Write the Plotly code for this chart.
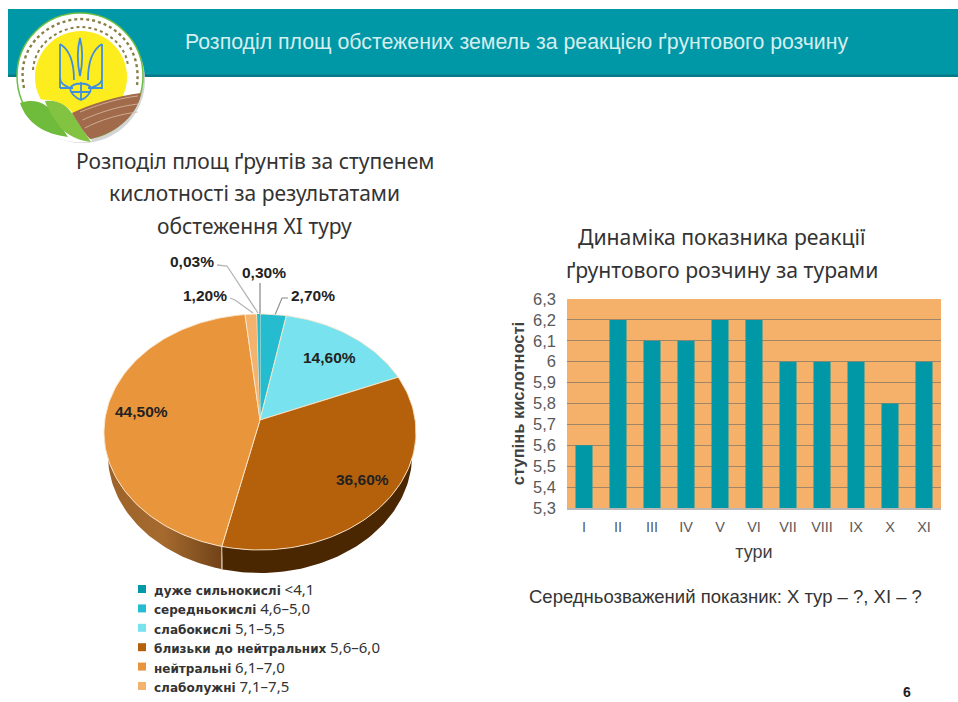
import math, re
import plotly.graph_objects as go

W, H = 958, 702

# ---------- data ----------
slice_values = [2.70, 14.60, 36.60, 44.50, 1.20, 0.03, 0.30]
slice_colors = ["#25bcd0", "#78e3ee", "#b5600b", "#e8953c", "#f3b26d", "#f3b26d", "#25bcd0"]
slice_labels = ["2,70%", "14,60%", "36,60%", "44,50%", "1,20%", "0,03%", "0,30%"]

legend_names = ["дуже сильнокислі", "середньокислі", "слабокислі",
                "близьки до нейтральних", "нейтральні", "слаболужні"]
legend_ranges = ["&lt;4,1", "4,6–5,0", "5,1–5,5", "5,6–6,0", "6,1–7,0", "7,1–7,5"]
legend_colors = ["#0097a7", "#25bcd0", "#78e3ee", "#b5600b", "#e8953c", "#f3b26d"]

tours = ["I", "II", "III", "IV", "V", "VI", "VII", "VIII", "IX", "X", "XI"]
acidity = [5.6, 6.2, 6.1, 6.1, 6.2, 6.2, 6.0, 6.0, 6.0, 5.8, 6.0]
acid_ticks = [5.3, 5.4, 5.5, 5.6, 5.7, 5.8, 5.9, 6.0, 6.1, 6.2, 6.3]
acid_tick_text = ["5,3", "5,4", "5,5", "5,6", "5,7", "5,8", "5,9", "6", "6,1", "6,2", "6,3"]

TEAL = "#0097a7"
ORANGE = "#f5b06a"
GRID = "#a08568"

# ---------- pixel helpers ----------
def px(x): return x / W
def py(y): return 1 - y / H

def path(s):
    """Pixel path -> paper path."""
    i = [0]
    def rep(m):
        v = float(m.group(0))
        out = px(v) if i[0] % 2 == 0 else py(v)
        i[0] += 1
        return f"{out:.5f}"
    return re.sub(r"-?\d+\.?\d*", rep, s)

shapes, annos = [], []

def shape_path(s, fill=None, line=None, lw=0, dash=None):
    d = dict(type="path", path=path(s), xref="paper", yref="paper", layer="below",
             fillcolor=fill or "rgba(0,0,0,0)", line=dict(color=line or "rgba(0,0,0,0)", width=lw))
    if dash: d["line"]["dash"] = dash
    shapes.append(d)

def rect(x0, y0, x1, y1, fill, layer="below"):
    shapes.append(dict(type="rect", xref="paper", yref="paper", layer=layer,
                       x0=px(x0), x1=px(x1), y0=py(y0), y1=py(y1),
                       fillcolor=fill, line=dict(width=0)))

def circle(cx, cy, r, fill, line=None, lw=0):
    shapes.append(dict(type="circle", xref="paper", yref="paper", layer="below",
                       x0=px(cx - r), x1=px(cx + r), y0=py(cy - r), y1=py(cy + r),
                       fillcolor=fill, line=dict(color=line or "rgba(0,0,0,0)", width=lw)))

def text(x, y, s, size, color="#333333", family="Liberation Sans", xanchor="center"):
    annos.append(dict(x=px(x), y=py(y), xref="paper", yref="paper", text=s, showarrow=False,
                      xanchor=xanchor, yanchor="middle", align="center",
                      font=dict(size=size, color=color, family=family)))

# ---------- header band ----------
rect(8, 9, W, 76, TEAL)
rect(8, 74.5, W, 77, "#077a87")
text(516.5, 42, "Розподіл площ обстежених земель за реакцією ґрунтового розчину", 21.3, "#d5eeee")

# ---------- logo ----------
circle(82, 80, 63, "#d4d4d4")
circle(80, 76, 63, "#ffffff", "#6cbf45", 1.5)
circle(81, 77, 46, "#fdec1e")
shape_path("M 22 103 C 40 96 62 100 72 112 C 78 120 84 130 92 141 C 72 146 36 138 22 103 Z", "#ffffff")
shape_path("M 20 103 C 35 98 45 103 53 112 C 60 122 63 130 68 137 C 45 134 27 124 20 103 Z", "#6fbb3c")
shape_path("M 45 101 C 58 99 68 106 74 116 C 80 126 86 134 91 142 C 74 140 62 132 55 120 C 50 112 47 107 45 101 Z", "#82c341")
shape_path("M 72 113 C 90 104 118 96 141 93 C 139 112 118 134 90 139 C 82 130 77 121 72 113 Z", "#a06a4b")
for yy in (104, 112, 120):
    shape_path(f"M {80 + (yy-104)*0.3:.1f} {yy+8} C 100 {yy}, 120 {yy-6}, 138 {yy-8}", None, "#d8bba5", 0.8)
# ring lettering is illegible in the source: rendered as a fine dotted arc
shape_path("M 24 88 C 15 45 50 20 80 19 C 112 19 142 45 137 85", None, "#8a7f45", 2.4, "dot")
shape_path("M 33 70 C 35 42 60 28 80 27 C 104 27 126 44 128 66", None, "#8a7f45", 2, "dot")
B = "#3f8fe0"
shape_path("M 80 38 C 77 50 77 62 80 76 C 83 62 83 50 80 38 Z", None, B, 1.8)
shape_path("M 60 44 L 60 78 C 60 84 66 86 70 88 M 60 44 C 70 50 74 62 74 80 M 102 44 L 102 78 C 102 84 96 86 90 88 M 102 44 C 92 50 88 62 88 80", None, B, 1.8)
shape_path("M 60 88 L 73 88 M 88 88 L 102 88 L 102 80 M 60 88 L 60 78", None, B, 1.8)
shape_path("M 70 88 C 70 92 75 98 81 100 C 87 98 91 92 91 88 C 88 82 74 82 70 88 Z M 81 82 L 81 100 M 71 92 L 91 92", None, B, 1.8)

# ---------- pie geometry (unit circle mapped to an ellipse by the axis ranges) ----------
PCX, PCY, RX, RY = 260, 432, 156, 118
APEX_Y = (PCY - 420) / RY
DEPTH = 23 / RY
RIM_SCALE = 0.975
DOM = (0, W, 0, H)   # helper axes span the page
px_range = [(DOM[0] - PCX) / RX, (DOM[1] - PCX) / RX]
py_range = [(PCY - DOM[3]) / RY, (PCY - DOM[2]) / RY]

total = sum(slice_values)
edges = [0.0]
for v in slice_values:
    edges.append(edges[-1] + v / total * 2 * math.pi)

def arc(a0, a1, dy=0.0, sx=1.0):
    n = max(2, int(abs(a1 - a0) / (2 * math.pi) * 240) + 2)
    ts = [a0 + (a1 - a0) * i / (n - 1) for i in range(n)]
    return [sx * math.sin(t) for t in ts], [math.cos(t) - dy for t in ts]

fig = go.Figure()

# rim of the drum, under the two big slices
split = edges[3]
xa, ya = arc(math.pi / 2, split)
xb, yb = arc(split, math.pi / 2, DEPTH, RIM_SCALE)
fig.add_trace(go.Scatter(x=xa + xb, y=ya + yb, fill="toself", fillcolor="#4a2700", mode="lines",
                         line=dict(width=0), xaxis="x2", yaxis="y2", hoverinfo="skip", showlegend=False))
xa, ya = arc(split, 3 * math.pi / 2)
xb, yb = arc(3 * math.pi / 2, split, DEPTH, RIM_SCALE)
fig.add_trace(go.Scatter(x=xa + xb, y=ya + yb, fill="toself", mode="lines", line=dict(width=0),
                         fillgradient=dict(type="horizontal",
                                           colorscale=[[0, "#9c6229"], [0.5, "#a56a2e"], [1, "#704218"]]),
                         xaxis="x2", yaxis="y2", hoverinfo="skip", showlegend=False))
# seam on the rim
xs, ys = arc(split, split)
fig.add_trace(go.Scatter(x=[xs[0], xs[0]], y=[ys[0], ys[0] - DEPTH], mode="lines",
                         line=dict(color="#e8d5bd", width=1), xaxis="x2", yaxis="y2",
                         hoverinfo="skip", showlegend=False))
# slices
for i, v in enumerate(slice_values):
    xa, ya = arc(edges[i], edges[i + 1])
    fig.add_trace(go.Scatter(x=[0] + xa + [0], y=[APEX_Y] + ya + [APEX_Y], fill="toself",
                             fillcolor=slice_colors[i], mode="lines",
                             line=dict(color="#fbe6cc", width=0.9 if v > 1 else 0),
                             name=slice_labels[i], xaxis="x2", yaxis="y2", showlegend=False))

# pie labels and leader lines (pixel layout)
label_pos = {"2,70%": (313, 295), "14,60%": (329, 357), "36,60%": (362, 479), "44,50%": (141, 411),
             "1,20%": (205, 295), "0,03%": (192, 261), "0,30%": (264, 272)}
for lab in slice_labels:
    x, y = label_pos[lab]
    text(x, y, f"<b>{lab}</b>", 15.5, "#222222")
LEAD = "#b5b5b5"
shape_path("M 217 265 L 227 266 L 258 313", None, LEAD, 1.3)
shape_path("M 260 283 L 260 314", None, LEAD, 2)
shape_path("M 230 298 L 235 300 L 253 313", None, LEAD, 1.3)
shape_path("M 288 298 L 282 298 L 275 315", None, "#8a8a8a", 1.1)

# titles
T1 = "Noto Sans"
text(255, 161, "Розподіл площ ґрунтів за ступенем", 21, "#333333", T1)
text(255, 193, "кислотності за результатами", 21, "#333333", T1)
text(255, 226, "обстеження XI туру", 21, "#333333", T1)
text(721.5, 236, "Динаміка показника реакції", 21.2, "#333333", T1)
text(721.5, 269, "ґрунтового розчину за турами", 21.2, "#333333", T1)
text(725, 596, "Середньозважений показник: X тур – ?, XI – ?", 18.5, "#333333")

# page number
annos.append(dict(x=(907 - PCX) / RX, y=(PCY - 692) / RY, xref="x2", yref="y2", text="<b>6</b>",
                  showarrow=False, font=dict(size=14, color="#222222", family="Liberation Sans")))

# legend
for i, (n, r, c) in enumerate(zip(legend_names, legend_ranges, legend_colors)):
    y = 589 + i * 19.4
    rect(138, y - 4, 146, y + 4, c)
    text(152, y, f"<b>{n}</b> <span style='font-size:15px;font-family:Noto Sans'>{r}</span>",
         12, "#333333", "DejaVu Sans", "left")

# ---------- bar chart ----------
BX0, BX1, BY0, BY1 = 567, 941, 299, 508
rect(BX0, BY0, BX1, BY1, ORANGE)
fig.add_trace(go.Bar(x=tours, y=acidity, marker=dict(color=TEAL, line=dict(width=0)),
                     showlegend=False, xaxis="x", yaxis="y"))

fig.update_layout(
    width=W, height=H, margin=dict(l=0, r=0, t=0, b=0), autosize=False,
    paper_bgcolor="white", plot_bgcolor="rgba(0,0,0,0)", bargap=0.5,
    shapes=shapes, annotations=annos, showlegend=False,
    xaxis=dict(domain=[px(BX0), px(BX1)], anchor="y", type="category", categoryorder="array", automargin=False,
               categoryarray=tours, showgrid=False, ticks="", showline=True, linecolor="#b9b9b9", linewidth=1.5,
               tickfont=dict(size=14.5, color="#595959", family="Liberation Sans"), ticklabelstandoff=5,
               title=dict(text="тури", font=dict(size=18, color="#404040", family="Liberation Sans"), standoff=11)),
    yaxis=dict(domain=[py(BY1), py(BY0)], anchor="x", range=[5.3, 6.3], tickvals=acid_ticks, automargin=False,
               ticktext=acid_tick_text, showgrid=True, gridcolor=GRID, gridwidth=1.4, zeroline=False,
               showline=False, ticks="", tickfont=dict(size=16.5, color="#595959", family="Liberation Sans"),
               ticklabelstandoff=10,
               title=dict(text="<b>ступінь кислотності</b>", font=dict(size=16.5, color="#404040", family="Liberation Sans"), standoff=4)),
    xaxis2=dict(domain=[px(DOM[0]), px(DOM[1])], anchor="y2", range=px_range, visible=False, automargin=False),
    yaxis2=dict(domain=[py(DOM[3]), py(DOM[2])], anchor="x2", range=py_range, visible=False, automargin=False),
)

fig.write_html("out.html", post_script="document.body.style.margin='0';document.body.style.overflow='hidden';",
               config=dict(displayModeBar=False))
